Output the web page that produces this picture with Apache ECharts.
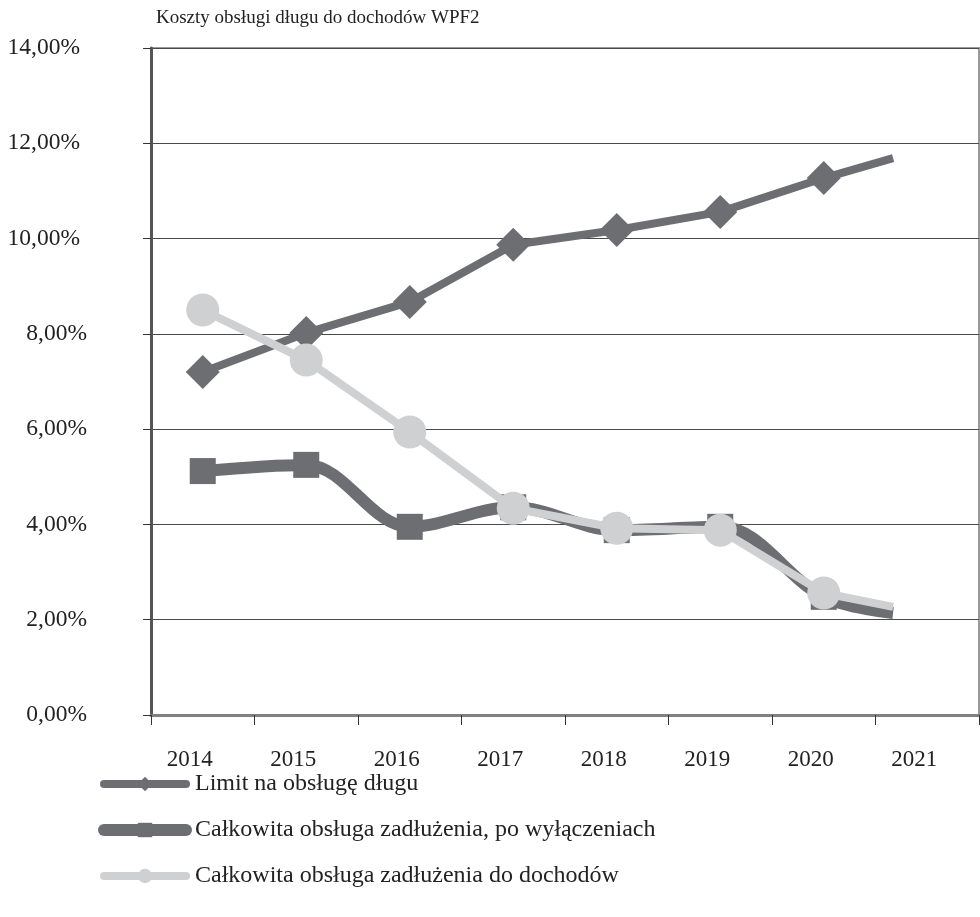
<!DOCTYPE html>
<html><head><meta charset="utf-8">
<script src="https://cdn.jsdelivr.net/npm/echarts@6/dist/echarts.min.js"></script>
<style>html,body{margin:0;padding:0;background:#fff}#c{width:980px;height:917px}</style>
</head><body><div id="c"></div>
<script>
var title = 'Koszty obsługi długu do dochodów WPF2';
var categories = ['2014','2015','2016','2017','2018','2019','2020','2021'];
// x positions in years (last point is where the drawn line stops)
var years = [2014, 2015, 2016, 2017, 2018, 2019, 2020, 2020.67];
var limitName = 'Limit na obsługę długu';
var limitVals = [7.20, 8.02, 8.67, 9.87, 10.18, 10.56, 11.27, 11.69];
var poName = 'Całkowita obsługa zadłużenia, po wyłączeniach';
var poVals = [5.12, 5.25, 3.95, 4.36, 3.88, 3.95, 2.48, 2.14];
var doName = 'Całkowita obsługa zadłużenia do dochodów';
var doVals = [8.50, 7.45, 5.94, 4.34, 3.92, 3.88, 2.56, 2.27];

function pairs(v){ return v.map(function(y,i){ return [years[i], y, i < 7]; }); }
var FONT = '"Liberation Serif","DejaVu Serif",serif';
var dark = '#6d6e71', light = '#cfd0d2';

var chart = echarts.init(document.getElementById('c'), null, {renderer:'canvas'});
chart.setOption({
  animation: false,
  backgroundColor: '#fff',
  title: { text: title, left: 151, top: 4, textStyle: { fontFamily: FONT, fontSize: 19, fontWeight: 'normal', color: '#222' } },
  grid: { left: 151, right: 1, top: 48, bottom: 202, show: true, borderColor: '#9a9a9a', borderWidth: 2, containLabel: false },
  legend: {
    orient: 'vertical', left: 98, top: 772, padding: 0, itemGap: 22, itemWidth: 82, itemHeight: 18,
    textStyle: { fontFamily: FONT, fontSize: 24, color: '#222', padding: [0,0,0,4] },
    data: [
      { name: limitName, lineStyle: { width: 8, cap: 'round' } },
      { name: poName, lineStyle: { width: 12, cap: 'round' } },
      { name: doName, lineStyle: { width: 8, cap: 'round' } }
    ]
  },
  xAxis: [
    { type: 'category', data: categories, boundaryGap: true, position: 'bottom',
      axisLine: { lineStyle: { color: '#808080', width: 3 } },
      axisTick: { show: true, length: 10, lineStyle: { color: '#333', width: 1 } },
      axisLabel: { fontFamily: FONT, fontSize: 23, color: '#222', margin: 33, padding: [0, 26, 0, 0] },
      splitLine: { show: false } },
    { type: 'value', min: 2013.5, max: 2021.5, show: false }
  ],
  yAxis: {
    type: 'value', min: 0, max: 14, interval: 2,
    axisLine: { show: true, lineStyle: { color: '#555', width: 3 } },
    axisTick: { show: true, length: 8, lineStyle: { color: '#333' } },
    axisLabel: { color: '#222', margin: 64,
      formatter: function(v){
        var s = v.toFixed(2).replace('.', ',') + '%';
        return v >= 10 ? '{b|' + s + '}' : '{a|' + s + '}';
      },
      rich: {
        a: { fontFamily: FONT, fontSize: 23.5, color: '#222' },
        b: { fontFamily: FONT, fontSize: 23.5, color: '#222', padding: [0, 7, 0, 0] }
      } },
    splitLine: { show: true, lineStyle: { color: '#4a4a4a', width: 1 } }
  },
  series: [
    { name: limitName, type: 'line', xAxisIndex: 1, data: pairs(limitVals),
      symbol: 'diamond', symbolSize: function(d){ return d[2] ? 34 : 0; },
      lineStyle: { color: dark, width: 8 }, itemStyle: { color: dark }, z: 2 },
    { name: poName, type: 'line', xAxisIndex: 1, data: pairs(poVals), smooth: 0.35,
      symbol: 'rect', symbolSize: function(d){ return d[2] ? 26 : 0; },
      lineStyle: { color: dark, width: 12 }, itemStyle: { color: dark }, z: 3 },
    { name: doName, type: 'line', xAxisIndex: 1, data: pairs(doVals),
      symbol: 'circle', symbolSize: function(d){ return d[2] ? 33 : 0; },
      lineStyle: { color: light, width: 8 }, itemStyle: { color: light }, z: 4 }
  ]
});
</script></body></html>
